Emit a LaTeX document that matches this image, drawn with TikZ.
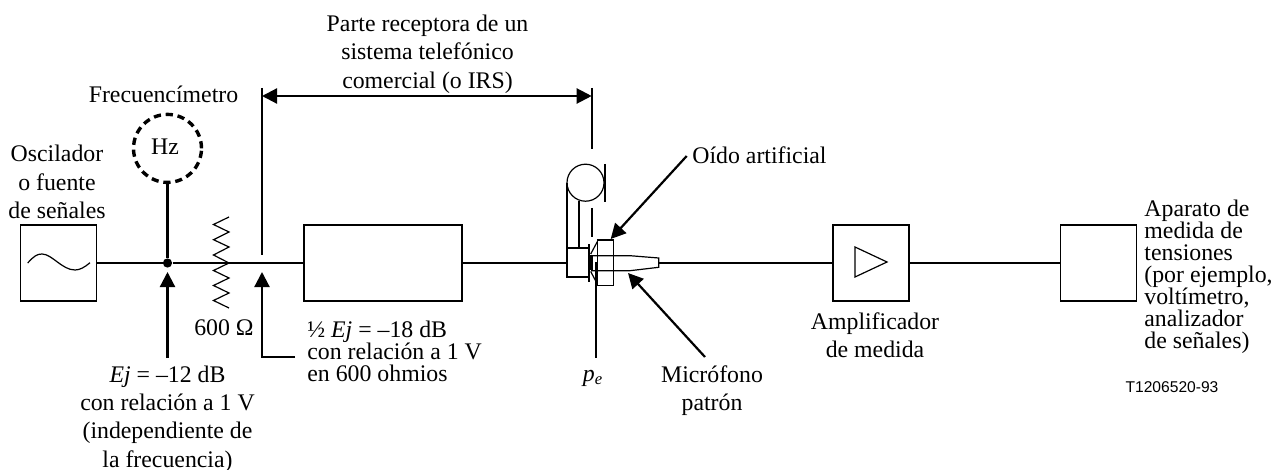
\documentclass[tikz,border=0pt]{standalone}
\usepackage{fontspec}
\setmainfont{Liberation Serif}
\setsansfont{Liberation Sans}
\usetikzlibrary{arrows.meta}
\tikzset{
	wire/.style={black,line width=1.1pt},
	thin wire/.style={black,line width=0.6pt},
	arrowline/.style={wire,-{Triangle[length=7.5pt,width=7.5pt]}},
	block/.style={draw=black,line width=0.7pt,inner sep=0pt,minimum width=38pt,minimum height=38pt},
	label/.style={align=center,font=\fontsize{11.9}{14.2}\selectfont,inner sep=0pt},
	leftlabel/.style={align=left,font=\fontsize{11.9}{11}\selectfont,inner sep=0pt}
}
\begin{document}
\begin{tikzpicture}[x=0.5pt,y=-0.5pt]
	\useasboundingbox (0,0) rectangle (1272,470);
	% blocks
	\node[block] (osc) at (58.7,263) {};
	\node[block,minimum width=79pt] (filt) at (383,263) {};
	\node[block] (amp) at (871,263) {};
	\node[block] (meter) at (1098.5,263) {};
	\draw[thin wire] (27.7,263) .. controls (34,256) and (37,254) .. (42,254) .. controls (52,254) and (62,270) .. (75,270) .. controls (80,270) and (85,267) .. (90,262.7);
	\draw[thin wire] (855,247) -- (855,277) -- (887,262) -- cycle;
	% meter and wire
	\node[circle,draw=black,line width=1.7pt,dash pattern=on 3.6pt off 2.4pt,minimum size=34pt,inner sep=0pt] (hz) at (167.5,148.4) {};
	\node[label] (hztext) at (165,147) {Hz};
	\node[circle,fill=black,inner sep=0pt,minimum size=4.6pt] (jct) at (167.5,263) {};
	\coordinate (tap) at (262,255);
	\coordinate (wiretop) at (262,88);
	\draw[wire] (osc.east) -- (jct) -- (filt.west);
	\draw[wire] (hz.south) -- (jct);
	\draw[thin wire] (229,217) -- (213.5,224.5) -- (229,232) -- (213.5,239.7) -- (229,247) -- (213.5,255) -- (229,263) -- (213.5,270.5) -- (229,278) -- (213.5,285.5) -- (229,293) -- (213.5,300.5) -- (229,308);
	\draw[wire] (wiretop) -- (tap);
	% earphone and ear
	\coordinate (phone) at (566.7,263);
	\draw[wire] (filt.east) -- (phone);
	\draw[thin wire] (566.7,248) rectangle (589,277);
	\draw[wire] (566.7,183) -- (566.7,277);
	\draw[wire] (578.7,201) -- (578.7,248);
	\draw[thin wire] (585.5,182.7) circle (18.5);
	\draw[wire] (604.7,164) -- (604.7,201.7);
	\draw[wire] (591.7,88) -- (591.7,149);
	\draw[wire] (591.7,208) -- (591.7,237);
	\draw[wire] (589,244) -- (589,281.7);
	\draw[line width=1.5pt] (591,255) -- (591,270);
	\draw[thin wire] (597.3,240) rectangle (613.3,285.7);
	\draw[thin wire] (590.7,254) -- (597.3,241.7) (590.7,271.5) -- (597.3,284);
	\draw[thin wire] (591,255.7) -- (630,255.7) -- (658.7,258) -- (658.7,267.3) -- (630,270.7) -- (591,270.7);
	\draw[wire] (595.7,262.3) -- (595.7,358);
	\draw[wire] (658.7,263) -- (amp.west);
	\draw[wire] (amp.east) -- (meter.west);
	% arrows
	\draw[wire,{Triangle[length=7.5pt,width=7.5pt]}-{Triangle[length=7.5pt,width=7.5pt]}] (262,96) -- (591.7,96);
	\coordinate (a1) at (167.5,358);
	\draw[arrowline] (a1) -- (167.5,272);
	\coordinate (a2) at (295,357);
	\draw[arrowline] (a2) -- (262,357) -- (262,272);
	\coordinate (a3) at (686.7,156);
	\draw[arrowline] (a3) -- (610.7,239);
	\coordinate (a4) at (705,357);
	\draw[arrowline] (a4) -- (628,273);
	% labels
	\node[label] (recv) at (427.5,54) {Parte receptora de un\\sistema telefónico\\comercial (o IRS)};
	\node[label] (freq) at (163.5,94) {Frecuencímetro};
	\node[label] (osclbl) at (57,182) {Oscilador\\o fuente\\de señales};
	\node[label] (ohm) at (224,328) {600 Ω};
	\node[leftlabel,anchor=west] (halfej) at (307,351.5) {\textonehalf{} \textit{Ej} = –18 dB\\con relación a 1 V\\en 600 ohmios};
	\node[label] (ej) at (167.5,419) {\textit{Ej} = –12 dB\\con relación a 1 V\\(independiente de\\la frecuencia)};
	\node[leftlabel,anchor=west] (ear) at (692,155) {Oído artificial};
	\node[label] (mic) at (712,390.5) {Micrófono\\patrón};
	\node[label] (pe) at (593,378) {\textit{p\textsubscript{e}}};
	\node[label] (amplbl) at (875,335.5) {Amplificador\\de medida};
	\node[leftlabel,anchor=west] (metlbl) at (1144,276.5) {Aparato de\\medida de\\tensiones\\(por ejemplo,\\voltímetro,\\analizador\\de señales)};
	\node[inner sep=0pt,font=\sffamily\fontsize{7.8}{9}\selectfont] (code) at (1172,387) {T1206520-93};
\end{tikzpicture}
\end{document}
